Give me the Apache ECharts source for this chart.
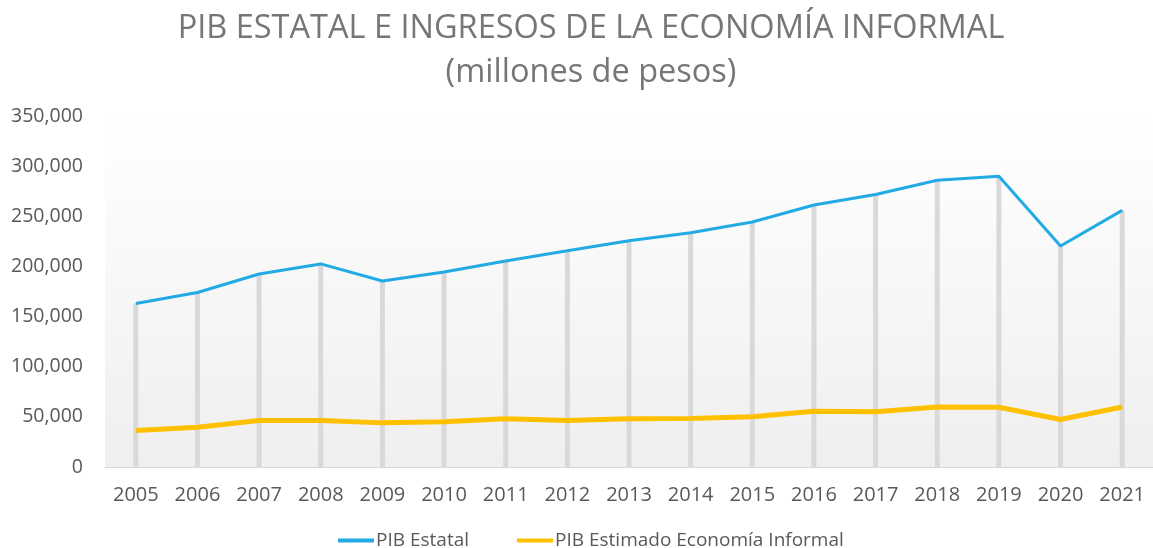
<!DOCTYPE html>
<html>
<head>
<meta charset="utf-8">
<script src="https://cdn.jsdelivr.net/npm/echarts@6/dist/echarts.min.js"></script>
<style>
html,body{margin:0;padding:0;background:#fff;}
#chart{width:1153px;height:548px;}
</style>
</head>
<body>
<div id="chart"></div>
<script>
const years = ['2005','2006','2007','2008','2009','2010','2011','2012','2013','2014','2015','2016','2017','2018','2019','2020','2021'];
const pibEstatal = [163000,174000,192500,202500,185500,194500,205500,215700,225700,233600,244300,261200,271800,286000,290000,220400,255900];
const pibInformal = [36300,39600,46300,46300,44000,45000,48000,46300,48000,48300,50000,55600,55000,59900,59600,47300,59900];
const titleLines = ['PIB ESTATAL E INGRESOS DE LA ECONOMÍA INFORMAL', '(millones de pesos)'];
const seriesNames = ['PIB Estatal', 'PIB Estimado Economía Informal'];

const FONT = '"Open Sans", sans-serif';
const chart = echarts.init(document.getElementById('chart'), null, {renderer: 'canvas'});
chart.setOption({
  animation: false,
  backgroundColor: '#ffffff',
  title: {
    text: titleLines.join('\n'),
    left: 586,
    textAlign: 'center',
    top: 2,
    textStyle: {fontFamily: FONT, fontSize: 32.5, fontWeight: 'normal', color: '#767676', lineHeight: 44}
  },
  legend: {
    data: seriesNames,
    left: 333,
    top: 526,
    itemWidth: 36,
    itemHeight: 4,
    itemGap: 48,
    icon: 'rect',
    textStyle: {fontFamily: FONT, fontSize: 19, color: '#595959', padding: [0, 0, 0, -3]}
  },
  grid: {
    left: 105,
    top: 116,
    width: 1051,
    height: 351,
    show: true,
    borderWidth: 0,
    backgroundColor: new echarts.graphic.LinearGradient(0, 0, 0, 1, [
      {offset: 0, color: '#ffffff'},
      {offset: 1, color: '#efefef'}
    ])
  },
  xAxis: {
    type: 'category',
    data: years,
    boundaryGap: true,
    axisLine: {lineStyle: {color: '#d9d9d9', width: 1}},
    axisTick: {show: false},
    axisLabel: {fontFamily: FONT, fontSize: 20, color: '#595959', margin: 18}
  },
  yAxis: {
    type: 'value',
    min: 0,
    max: 350000,
    interval: 50000,
    axisLine: {show: false},
    axisTick: {show: false},
    splitLine: {show: false},
    axisLabel: {
      fontFamily: FONT, fontSize: 19.5, color: '#595959', margin: 22,
      formatter: v => v.toLocaleString('en-US')
    }
  },
  series: [
    {
      name: 'drop',
      type: 'bar',
      data: pibEstatal,
      barWidth: 5,
      itemStyle: {color: '#d9d9d9'},
      z: 1,
      silent: true
    },
    {
      name: seriesNames[0],
      type: 'line',
      data: pibEstatal,
      symbol: 'none',
      lineStyle: {color: '#22aae4', width: 3},
      itemStyle: {color: '#22aae4'},
      z: 3
    },
    {
      name: seriesNames[1],
      type: 'line',
      data: pibInformal,
      symbol: 'none',
      lineStyle: {color: '#ffc000', width: 5},
      itemStyle: {color: '#ffc000'},
      z: 3
    }
  ]
});
</script>
</body>
</html>
